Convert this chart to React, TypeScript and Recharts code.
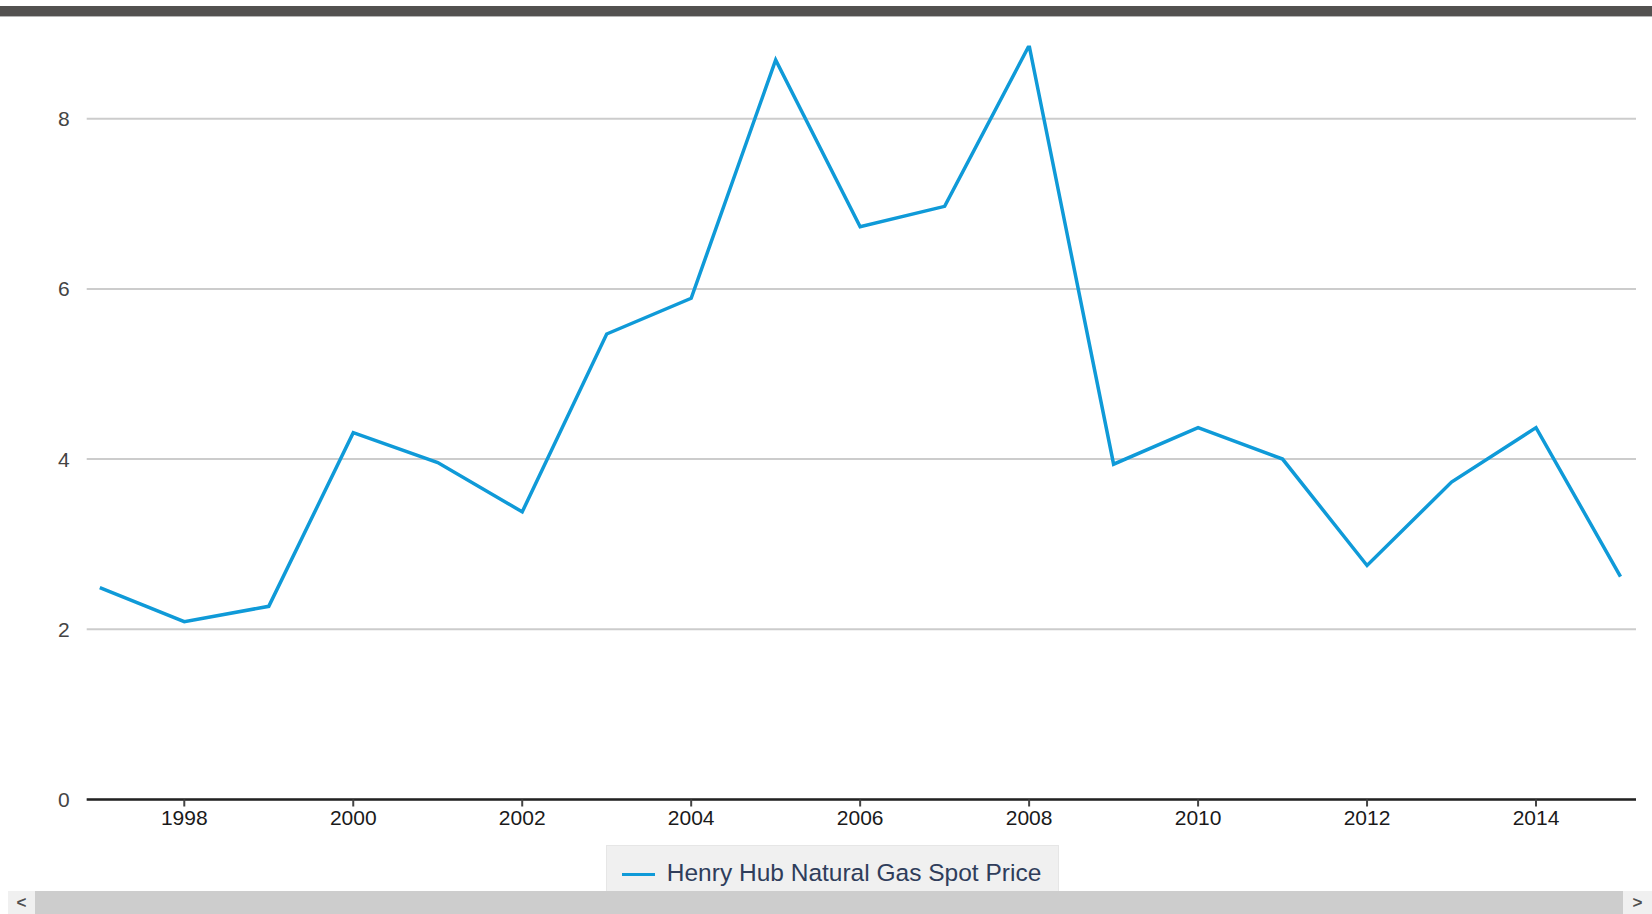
import React from "react";
import { LineChart, Line, XAxis, YAxis, CartesianGrid } from "recharts";

const years = [1997, 1998, 1999, 2000, 2001, 2002, 2003, 2004, 2005, 2006, 2007, 2008, 2009, 2010, 2011, 2012, 2013, 2014, 2015];
const prices = [2.49, 2.09, 2.27, 4.31, 3.96, 3.38, 5.47, 5.89, 8.69, 6.73, 6.97, 8.86, 3.94, 4.37, 4.0, 2.75, 3.73, 4.37, 2.62];
const xTicks = [1998, 2000, 2002, 2004, 2006, 2008, 2010, 2012, 2014];
const yTicks = [0, 2, 4, 6, 8];
const seriesName = "Henry Hub Natural Gas Spot Price";

const data = years.map((y, i) => ({ year: y, price: prices[i] }));

const LINE_COLOR = "#0f9ad8";
const FONT = "'Liberation Sans', Arial, sans-serif";

export default function App() {
  return (
    <div style={{ position: "relative", width: 1652, height: 914, overflow: "hidden", background: "#fff", fontFamily: FONT }}>
      <style>{"body{margin:0;}"}</style>
      {/* top dark bar */}
      <div style={{ position: "absolute", left: 0, top: 6, width: 1652, height: 10, background: "#535150", borderBottom: "1px solid #b5b5b5" }} />
      <div style={{ position: "absolute", left: 0, top: 0 }}>
        <LineChart width={1652} height={914} data={data} margin={{ top: 45.5, right: 16, bottom: 0, left: 0 }}>
          <CartesianGrid horizontal vertical={false} syncWithTicks stroke="#cccccc" strokeWidth={2} />
          <XAxis
            dataKey="year"
            type="number"
            domain={[1997, 2015]}
            ticks={xTicks}
            padding={{ left: 13.1, right: 15.5 }}
            height={114.5}
            tickSize={7}
            tickMargin={3.5}
            axisLine={{ stroke: "#222", strokeWidth: 2.5 }}
            tickLine={{ stroke: "#444", strokeWidth: 2 }}
            tick={{ fill: "#1a1a1a", fontSize: 21, fontFamily: FONT }}
            interval={0}
          />
          <YAxis
            type="number"
            domain={[0, 8.86]}
            allowDataOverflow
            ticks={yTicks}
            width={86.7}
            tickSize={0}
            tickMargin={17}
            axisLine={false}
            tickLine={false}
            tick={{ fill: "#444", fontSize: 21, fontFamily: FONT }}
            interval={0}
          />
          <Line
            type="linear"
            dataKey="price"
            name={seriesName}
            stroke={LINE_COLOR}
            strokeWidth={3.5}
            dot={false}
            activeDot={false}
            isAnimationActive={false}
          />
        </LineChart>
      </div>
      {/* legend */}
      <div style={{ position: "absolute", left: 605.5, top: 845, width: 453.5, height: 60, background: "#f0f0f0", border: "1px solid #e6e6e6", boxSizing: "border-box" }} />
      <div style={{ position: "absolute", left: 621.7, top: 872.5, width: 33, height: 3.5, background: LINE_COLOR }} />
      <div style={{ position: "absolute", left: 666.8, top: 861.4, fontSize: 24.5, lineHeight: "24.5px", color: "#2f3d5b", whiteSpace: "nowrap", fontFamily: FONT }}>
        {seriesName}
      </div>
      {/* bottom scrollbar */}
      <div style={{ position: "absolute", left: 0, top: 891, width: 1652, height: 23, background: "#cdcdcd" }} />
      <div style={{ position: "absolute", left: 0, top: 891, width: 8, height: 23, background: "#fff" }} />
      <div style={{ position: "absolute", left: 8, top: 891, width: 27, height: 23, background: "#f0f0f0", color: "#505050", fontSize: 17, fontWeight: "bold", lineHeight: "23px", textAlign: "center" }}>&lt;</div>
      <div style={{ position: "absolute", left: 1623, top: 891, width: 29, height: 23, background: "#f0f0f0", color: "#505050", fontSize: 17, fontWeight: "bold", lineHeight: "23px", textAlign: "center" }}>&gt;</div>
    </div>
  );
}
